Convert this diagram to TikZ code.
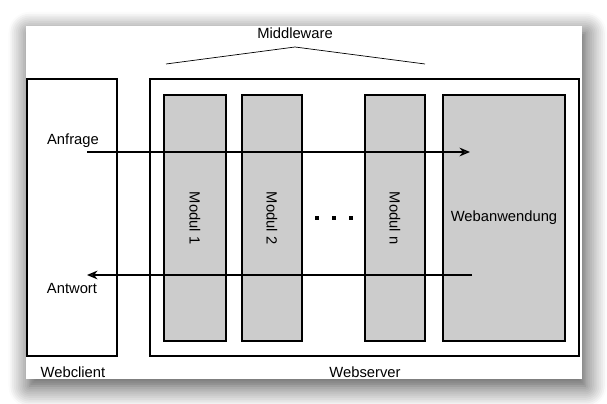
\documentclass[tikz,border=0pt]{standalone}
\usepackage{fontspec}
\setmainfont{Liberation Sans}
\usetikzlibrary{arrows.meta,shadows.blur}

\tikzset{
  box/.style={draw,thick,inner sep=0pt},
  modbox/.style={box,fill=black!20,minimum height=4.92cm},
  lbl/.style={font=\fontsize{8.4}{9}\selectfont,inner sep=1pt},
  msg/.style={draw,thick,-{Stealth[length=6pt,width=5pt]}}
}

\begin{document}
\begin{tikzpicture}[x=0.02cm,y=-0.02cm]
\useasboundingbox (0,0) rectangle (607,404);

% card with shadow
\path[fill=white,blur shadow={shadow xshift=2pt,shadow yshift=-4pt,shadow blur radius=12pt,shadow blur steps=12,shadow opacity=75}]
  (26,26) rectangle (582,379);

% client and server
\node[box,minimum width=1.8cm,minimum height=5.54cm] (client) at (72,217.5) {};
\node[box,minimum width=8.58cm,minimum height=5.54cm] (server) at (364.5,217.5) {};

% modules
\node[modbox,minimum width=1.24cm] (mod1) at (195,218) {};
\node[modbox,minimum width=1.2cm] (mod2) at (272,218) {};
\node[modbox,minimum width=1.2cm] (modn) at (395,218) {};
\node[modbox,minimum width=2.44cm,lbl] (webapp) at (504,218) {Webanwendung};

\node[lbl,rotate=-90] (mod1txt) at (mod1) {Modul 1};
\node[lbl,rotate=-90] (mod2txt) at (mod2) {Modul 2};
\node[lbl,rotate=-90] (modntxt) at (modn) {Modul n};

\foreach \x in {317,334,351}
  \fill (\x-2,216) rectangle (\x+2,220);

% middleware bracket
\node[lbl] (mw) at (295,33) {Middleware};
\coordinate (mwl) at (166,64);
\coordinate (mwp) at (295,47);
\coordinate (mwr) at (425,64);
\path[draw] (mwl) -- (mwp) -- (mwr);

% request and response
\coordinate (reqa) at (87,152);
\coordinate (reqb) at (470,152);
\coordinate (resa) at (472,275);
\coordinate (resb) at (87,275);
\path[msg] (reqa) -- (reqb);
\path[msg] (resa) -- (resb);

\node[lbl] (anfrage) at (73,141) {Anfrage};
\node[lbl] (antwort) at (72,288) {Antwort};
\node[lbl] (clienttxt) at (73,372) {Webclient};
\node[lbl] (servertxt) at (365,372) {Webserver};

\end{tikzpicture}
\end{document}
